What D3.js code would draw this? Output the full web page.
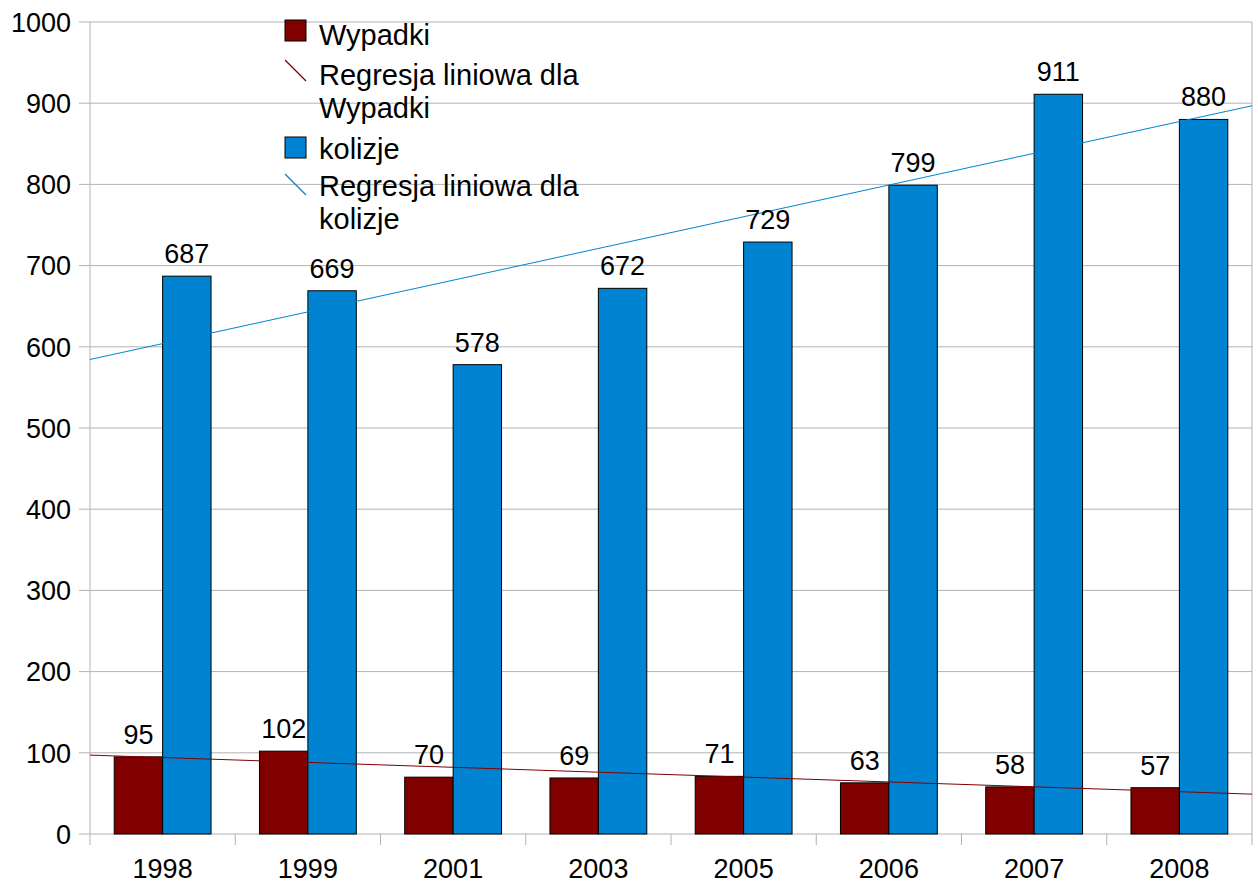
<!DOCTYPE html>
<html>
<head>
<meta charset="utf-8">
<script src="https://cdn.jsdelivr.net/npm/d3@7"></script>
<style>
  body { margin: 0; background: #fff; }
  svg { font-family: "Liberation Sans", Arial, sans-serif; }
</style>
</head>
<body>
<div id="chart"></div>
<script>
const years = ["1998", "1999", "2001", "2003", "2005", "2006", "2007", "2008"];
const wypadki = [95, 102, 70, 69, 71, 63, 58, 57];
const kolizje = [687, 669, 578, 672, 729, 799, 911, 880];
const yTicks = [0, 100, 200, 300, 400, 500, 600, 700, 800, 900, 1000];

const width = 1258;
const height = 884;
const margin = { top: 22, right: 6, bottom: 50, left: 90 };
const grid = "#b3b3b3";
const red = "#800000";
const blue = "#0084d1";

const svg = d3.select("#chart").append("svg")
  .attr("width", width).attr("height", height);

const x = d3.scaleBand()
  .domain(years)
  .range([margin.left, width - margin.right]);

const y = d3.scaleLinear()
  .domain([0, 1000])
  .range([height - margin.bottom, margin.top]);

// index scale for regression lines (band centers)
const xi = d3.scaleLinear()
  .domain([-0.5, years.length - 0.5])
  .range([margin.left, width - margin.right]);

// gridlines
svg.append("g")
  .selectAll("line")
  .data(yTicks)
  .join("line")
  .attr("x1", margin.left - 11)
  .attr("x2", width - margin.right)
  .attr("y1", (d) => y(d))
  .attr("y2", (d) => y(d))
  .attr("stroke", grid)
  .attr("stroke-width", 1);

// left and right frame lines
svg.append("line")
  .attr("x1", margin.left).attr("x2", margin.left)
  .attr("y1", margin.top).attr("y2", height - margin.bottom)
  .attr("stroke", grid);
svg.append("line")
  .attr("x1", width - margin.right).attr("x2", width - margin.right)
  .attr("y1", margin.top).attr("y2", height - margin.bottom)
  .attr("stroke", grid);

// x tick marks at band boundaries
const bounds = years.map((d) => x(d)).concat([width - margin.right]);
svg.append("g")
  .selectAll("line")
  .data(bounds)
  .join("line")
  .attr("x1", (d) => d).attr("x2", (d) => d)
  .attr("y1", y(0)).attr("y2", y(0) + 11)
  .attr("stroke", grid);

// y labels
svg.append("g")
  .selectAll("text")
  .data(yTicks)
  .join("text")
  .attr("x", margin.left - 19)
  .attr("y", (d) => y(d))
  .attr("dy", "0.36em")
  .attr("text-anchor", "end")
  .attr("font-size", 27)
  .attr("fill", "#000")
  .text((d) => d);

// x labels
svg.append("g")
  .selectAll("text")
  .data(years)
  .join("text")
  .attr("x", (d) => x(d) + x.bandwidth() / 2)
  .attr("y", 878)
  .attr("text-anchor", "middle")
  .attr("font-size", 27)
  .attr("fill", "#000")
  .text((d) => d);

const bw = x.bandwidth() / 3;
const series = [
  { name: "Wypadki", values: wypadki, color: red, offset: x.bandwidth() / 6 },
  { name: "kolizje", values: kolizje, color: blue, offset: x.bandwidth() / 6 + bw }
];

series.forEach((s) => {
  svg.append("g")
    .selectAll("rect")
    .data(s.values)
    .join("rect")
    .attr("x", (d, i) => x(years[i]) + s.offset)
    .attr("y", (d) => y(d))
    .attr("width", bw)
    .attr("height", (d) => y(0) - y(d))
    .attr("fill", s.color)
    .attr("stroke", "#000")
    .attr("stroke-width", 1);
});

// regression lines (least squares over category index)
function regression(values) {
  const xs = values.map((d, i) => i);
  const mx = d3.mean(xs);
  const my = d3.mean(values);
  const sxy = d3.sum(values, (d, i) => (i - mx) * (d - my));
  const sxx = d3.sum(xs, (i) => (i - mx) * (i - mx));
  const b = sxy / sxx;
  return (t) => my + b * (t - mx);
}

series.forEach((s) => {
  const f = regression(s.values);
  const t0 = -0.5, t1 = years.length - 0.5;
  svg.append("line")
    .attr("x1", xi(t0)).attr("y1", y(f(t0)))
    .attr("x2", xi(t1)).attr("y2", y(f(t1)))
    .attr("stroke", s.color)
    .attr("stroke-width", 1);
});

// value labels
series.forEach((s) => {
  svg.append("g")
    .selectAll("text")
    .data(s.values)
    .join("text")
    .attr("x", (d, i) => x(years[i]) + s.offset + bw / 2)
    .attr("y", (d) => y(d) - 13)
    .attr("text-anchor", "middle")
    .attr("font-size", 27)
    .attr("fill", "#000")
    .text((d) => d);
});

// legend
const legend = svg.append("g").attr("font-size", 29);
const lx = 285;
const items = [
  { type: "box", color: red, top: 20, lines: ["Wypadki"], base: 45 },
  { type: "line", color: red, top: 60, lines: ["Regresja liniowa dla", "Wypadki"], base: 85 },
  { type: "box", color: blue, top: 137, lines: ["kolizje"], base: 159 },
  { type: "line", color: blue, top: 174, lines: ["Regresja liniowa dla", "kolizje"], base: 196 }
];
items.forEach((it) => {
  if (it.type === "box") {
    legend.append("rect")
      .attr("x", lx).attr("y", it.top)
      .attr("width", 21).attr("height", 21)
      .attr("fill", it.color).attr("stroke", "#000");
  } else {
    legend.append("line")
      .attr("x1", lx).attr("y1", it.top)
      .attr("x2", lx + 21).attr("y2", it.top + 21)
      .attr("stroke", it.color).attr("stroke-width", 1.2);
  }
  it.lines.forEach((t, k) => {
    legend.append("text")
      .attr("x", 319)
      .attr("y", it.base + k * 33)
      .attr("fill", "#000")
      .text(t);
  });
});
</script>
</body>
</html>
